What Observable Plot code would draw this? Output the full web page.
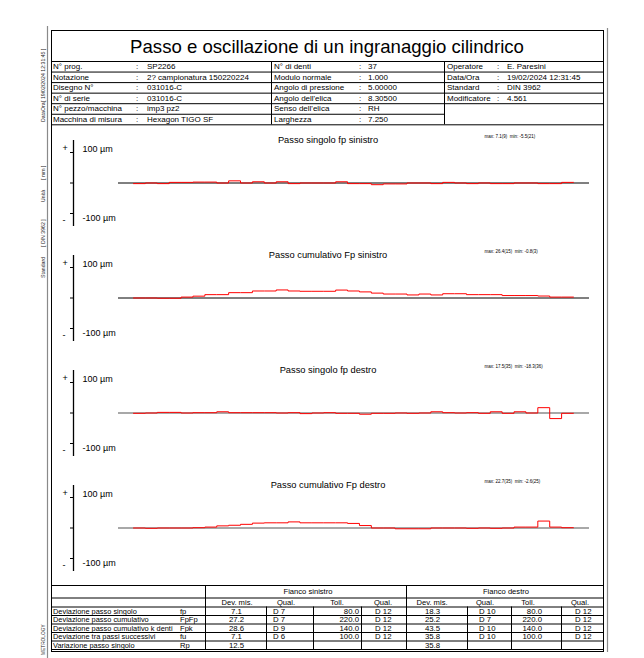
<!DOCTYPE html>
<html><head><meta charset="utf-8">
<script src="https://cdn.jsdelivr.net/npm/d3@7"></script>
<script src="https://cdn.jsdelivr.net/npm/@observablehq/plot@0.6"></script>
<style>
body{margin:0;background:#fff;}
#page{position:relative;width:644px;height:658px;overflow:hidden;background:#fff;}
#page svg{position:absolute;}
</style></head>
<body><div id="page"></div>
<script>
const FONT = '"Liberation Sans", Arial, sans-serif';

// ---------- header data ----------
const reportTitle = "Passo e oscillazione di un ingranaggio cilindrico";
const infoLabels1 = ["N° prog.", "Notazione", "Disegno N°", "N° di serie", "N° pezzo/macchina", "Macchina di misura"];
const infoValues1 = ["SP2266", "2? campionatura 150220224", "031016-C", "031016-C", "imp3 pz2", "Hexagon TIGO SF"];
const infoLabels2 = ["N° di denti", "Modulo normale", "Angolo di pressione", "Angolo dell'elica", "Senso dell'elica", "Larghezza"];
const infoValues2 = ["37", "1.000", "5.00000", "8.30500", "RH", "7.250"];
const infoLabels3 = ["Operatore", "Data/Ora", "Standard", "Modificatore"];
const infoValues3 = ["E. Paresini", "19/02/2024 12:31:45", "DIN 3962", "4.561"];
const sideNotes = [["DataOra", "[ 19/02/2024 12:31:45 ]"], ["Unità", "[ mm ]"], ["Standard", "[ DIN 3962 ]"], ["METROLOGY", ""]];

// ---------- chart data ----------
const teeth = d3.range(1, 38);
const fpSinistro = [-2,0,-2,2,2,3,3,0,7.1,0,4,0,4,-2,0,0,0,4,-2,-2,-5.5,-3,-3,0,0,-2,2,0,-2,0,-2,-2,0,0,-2,-2,2];
const FpSinistro = [0,0,-0.8,-0.8,3,6,11,11,17.5,17.5,23,23,26.4,23,22,22,22,26,23,20,16,13,13,10,13,10,14,14,11,11,11,8,8,8,6.5,3,3];
const fpDestro = [-1,0,2,2,0,1,1,4,1,1,1,1,0,1,-2,0,1,-1,-1,-4,-1,-1,0,-1,0,4,1,0,1,-1,4,-1,4,0,17.5,-18.3,-1];
const FpDestro = [0,-1,0,0,0,1,3,7,9,12,16,17,17,20,17,17,17,17,15,8,0,0,-2.6,-2.6,-2.6,0,0,0,-1,0,-1,0,3,3,22.7,3,1];
const panelTitles = ["Passo singolo fp sinistro", "Passo cumulativo Fp sinistro", "Passo singolo fp destro", "Passo cumulativo Fp destro"];
const panelStats = ["max: 7.1(9)  min: -5.5(21)", "max: 26.4(15)  min: -0.8(3)", "max: 17.5(35)  min: -18.3(36)", "max: 22.7(35)  min: -2.6(25)"];
const axisTicks = [-100, 0, 100];
const unit = "µm";

// ---------- result table data ----------
const flankNames = ["Fianco sinistro", "Fianco destro"];
const colHeads = ["Dev. mis.", "Qual.", "Toll.", "Qual."];
const rowNames = ["Deviazione passo singolo", "Deviazione passo cumulativo", "Deviazione passo cumulativo k denti", "Deviazione tra passi successivi", "Variazione passo singolo"];
const rowSymbols = ["fp", "FpFp", "Fpk", "fu", "Rp"];
const leftDev = ["7.1", "27.2", "28.6", "7.1", "12.5"];
const leftQual = ["D 7", "D 7", "D 9", "D 6", ""];
const leftTol = ["80.0", "220.0", "140.0", "100.0", ""];
const leftTolQual = ["D 12", "D 12", "D 12", "D 12", ""];
const rightDev = ["18.3", "25.2", "43.5", "35.8", "35.8"];
const rightQual = ["D 10", "D 7", "D 10", "D 10", ""];
const rightTol = ["80.0", "220.0", "140.0", "100.0", ""];
const rightTolQual = ["D 12", "D 12", "D 12", "D 12", ""];

// ---------- static page (frames, tables) ----------
const page = document.getElementById("page");
const svg = d3.select(page).append("svg").attr("width", 644).attr("height", 658)
  .style("left", "0px").style("top", "0px").style("font-family", FONT);

function hl(x1, x2, y, c = "#000", w = 1) { svg.append("line").attr("x1", x1).attr("x2", x2).attr("y1", y).attr("y2", y).attr("stroke", c).attr("stroke-width", w); }
function vl(x, y1, y2, c = "#000", w = 1) { svg.append("line").attr("x1", x).attr("x2", x).attr("y1", y1).attr("y2", y2).attr("stroke", c).attr("stroke-width", w); }
function tx(x, y, s, size, anchor = "start", fill = "#000") {
  return svg.append("text").attr("x", x).attr("y", y).attr("font-size", size).attr("text-anchor", anchor)
    .attr("dominant-baseline", "central").attr("fill", fill).text(s);
}

// outer and inner frames
vl(47.5, 26, 658, "#8a8a8a", 1.2);
vl(607.5, 28, 652, "#8a8a8a", 1.2);
svg.append("rect").attr("x", 51.5).attr("y", 30.5).attr("width", 552).attr("height", 621).attr("fill", "none").attr("stroke", "#000");

// title
tx(327, 46.5, reportTitle, 18.6, "middle");

// header table
const rowH = 10.55, top0 = 61;
for (let r = 0; r <= 6; r++) hl(51.5, r === 5 ? 444.5 : 603.5, top0 + r * rowH + 0.5);
vl(271.5, top0, top0 + 6 * rowH);
vl(444.5, top0, top0 + 6 * rowH);
infoLabels1.forEach((s, r) => {
  const y = top0 + (r + 0.5) * rowH + 0.5;
  tx(53, y, s, 8); tx(136, y, ":", 8); tx(147, y, infoValues1[r], 8);
  tx(274, y, infoLabels2[r], 8); tx(359, y, ":", 8); tx(368, y, infoValues2[r], 8);
  if (r < infoLabels3.length) { tx(447, y, infoLabels3[r], 8); tx(497, y, ":", 8); tx(507, y, infoValues3[r], 8); }
});

// side notes (rotated)
function rot(x, yStart, s, size) {
  svg.append("text").attr("transform", `translate(${x},${yStart}) rotate(-90)`).attr("font-size", size)
    .attr("dominant-baseline", "central").attr("fill", "#222").text(s);
}
rot(43, 122, sideNotes[0][0], 5.2); rot(43, 102, sideNotes[0][1], 5.2);
rot(43, 202, sideNotes[1][0], 5.2); rot(43, 180, sideNotes[1][1], 5.2);
rot(43, 278, sideNotes[2][0], 5.2); rot(43, 247, sideNotes[2][1], 5.2);
rot(43, 655, sideNotes[3][0], 4.8);

// result table
const tTop = 585, r1 = 597.5, r2 = 606.5, dRow = 8.5;
hl(51.5, 603.5, tTop + 0.5);
hl(51.5, 603.5, r1 + 0.5);
hl(51.5, 603.5, r2 + 0.5);
for (let r = 1; r <= 5; r++) hl(51.5, 603.5, r2 + r * dRow + 0.5);
const tBottom = r2 + 5 * dRow;
vl(205.5, tTop, tBottom); vl(406.5, tTop, tBottom);
[266.5, 313.5, 361.5, 467.5, 511.5, 561.5].forEach(x => vl(x, r2, tBottom));
tx(308, (tTop + r1) / 2 + 0.5, flankNames[0], 7.6, "middle");
tx(506, (tTop + r1) / 2 + 0.5, flankNames[1], 7.6, "middle");
const headX = [237, 286, 337, 383, 432, 485, 528, 580];
const hdrs = colHeads.concat(colHeads);
hdrs.forEach((s, i) => tx(headX[i], (r1 + r2) / 2 + 0.5, s, 7.6, "middle"));
rowNames.forEach((s, r) => {
  const y = r2 + (r + 0.5) * dRow + 0.5;
  tx(53, y, s, 7.4); tx(180, y, rowSymbols[r], 7.6);
  tx(236.5, y, leftDev[r], 7.8, "middle");
  tx(273, y, leftQual[r], 7.8);
  tx(359, y, leftTol[r], 7.8, "end");
  tx(375, y, leftTolQual[r], 7.8);
  tx(432.5, y, rightDev[r], 7.8, "middle");
  tx(479, y, rightQual[r], 7.8);
  tx(542, y, rightTol[r], 7.8, "end");
  tx(575, y, rightTolQual[r], 7.8);
});

// ---------- the four charts ----------
function drawPanel(values, i, baseColor, baseWidth) {
  const steps = teeth.map((t, j) => ({x: t - 0.5, y: values[j]}));
  steps.push({x: teeth[teeth.length - 1] + 0.5, y: values[values.length - 1]});
  const chart = Plot.plot({
    width: 552, height: 115,
    marginLeft: 22, marginRight: 14, marginTop: 25, marginBottom: 29,
    x: {domain: [teeth[0] - 0.5, teeth[teeth.length - 1] + 0.5], insetLeft: 60, insetRight: 16, axis: null},
    y: {domain: [-100, 100]},
    style: {fontFamily: FONT, fontSize: "9px", background: "transparent", overflow: "visible", color: "#000"},
    marks: [
      Plot.ruleY([0], {stroke: baseColor, strokeWidth: baseWidth, insetLeft: 45}),
      Plot.line(steps, {x: "x", y: "y", curve: "step-after", stroke: "#f00", strokeWidth: 1}),
      Plot.ruleX([teeth[0] - 0.5], {dx: -60, insetTop: -12, insetBottom: -13, stroke: "#000", strokeWidth: 1.3}),
      Plot.axisY({ticks: axisTicks, tickSize: 3, tickFormat: () => "", label: null}),
      Plot.text([axisTicks[2]], {y: d => d, text: d => `${d} ${unit}`, frameAnchor: "left", dx: 9, dy: -3, textAnchor: "start", fontSize: 9}),
      Plot.text([axisTicks[0]], {y: d => d, text: d => `${d} ${unit}`, frameAnchor: "left", dx: 9, dy: 5, textAnchor: "start", fontSize: 9}),
      Plot.text(["+"], {text: d => d, frameAnchor: "top-left", dx: -11, dy: -8, fontSize: 9}),
      Plot.text(["-"], {text: d => d, frameAnchor: "bottom-left", dx: -11, dy: 9, fontSize: 9}),
      Plot.text([panelTitles[i]], {text: d => d, frameAnchor: "top", dx: -3.5, dy: -16, fontSize: 9.3}),
      Plot.text([panelStats[i]], {text: d => d, frameAnchor: "top-left", dx: 411, dy: -18, textAnchor: "start", fontSize: 4.5})
    ]
  });
  chart.style.left = "51px";
  chart.style.top = (127 + 115 * i) + "px";
  page.appendChild(chart);
}
drawPanel(fpSinistro, 0, "#000", 1);
drawPanel(FpSinistro, 1, "#000", 1);
drawPanel(fpDestro, 2, "#a8a8a8", 2);
drawPanel(FpDestro, 3, "#a8a8a8", 2);
</script>
</body></html>
